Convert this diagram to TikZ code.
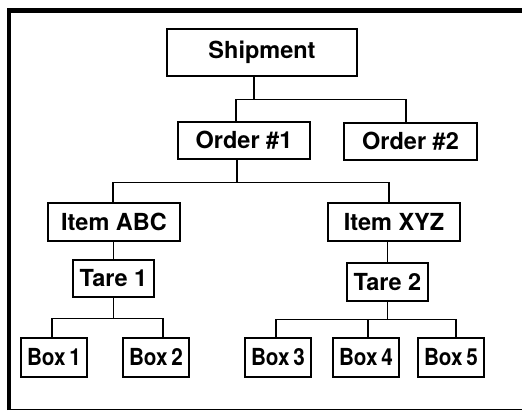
\documentclass[tikz,border=0pt]{standalone}
\usepackage{fontspec}
\setmainfont{TeX Gyre Heros}
\newfontfamily\narrowfont[FakeStretch=0.88]{TeX Gyre Heros}
\usetikzlibrary{positioning}

\begin{document}
\begin{tikzpicture}[
x=1pt, y=-1pt,
box/.style={draw, line width=1.5pt, inner sep=0pt, align=center, minimum height=37pt, font=\fontsize{23.5}{26}\selectfont\bfseries},
boxlbl/.style={box, minimum width=66pt, minimum height=39pt, font=\fontsize{23.5}{26}\narrowfont\bfseries},
link/.style={line width=1.3pt}
]
\useasboundingbox (0,0) rectangle (522,411);

% frame
\draw[line width=4pt] (9,410) -- (9,10.5);
\draw[line width=5pt] (7,10.5) -- (522,10.5);
\draw[line width=1.5pt] (7,409.5) -- (522,409.5);

\node[box, minimum width=190pt, minimum height=47pt] (ship) at (262,52.5) {Shipment};

\node[box, minimum width=132pt] (order1) at (244,140.5) {Order \#1};
\node[box, minimum width=133pt] (order2) at (410.5,141.5) {Order \#2};

\node[box, minimum width=132pt, minimum height=38pt] (itemabc) at (114,222) {Item ABC};
\node[box, minimum width=132pt, minimum height=38pt] (itemxyz) at (394,222) {Item XYZ};

\node[box, minimum width=81pt] (tare1) at (113.5,278.5) {Tare 1};
\node[box, minimum width=81pt, minimum height=38pt] (tare2) at (387.5,282) {Tare 2};

\node[boxlbl] (box1) at (54,357.5) {Box\,1};
\node[boxlbl] (box2) at (156,357.5) {Box\,2};
\node[boxlbl] (box3) at (278,357.5) {Box\,3};
\node[boxlbl] (box4) at (366,357.5) {Box\,4};
\node[boxlbl] (box5) at (451,357.5) {Box\,5};

\draw[link] ([xshift=-8pt]ship.south) -- ++(0,23) coordinate (j1);
\draw[link] ([xshift=-8pt]order1.north) |- (j1) -| ([xshift=-4.5pt]order2.north);

\draw[link] ([xshift=-7pt]order1.south) -- ++(0,23) coordinate (j2);
\draw[link] ([xshift=-1pt]itemabc.north) |- (j2) -| ([xshift=-5pt]itemxyz.north);

\draw[link] (tare1.north) -- (tare1.north |- itemabc.south);
\draw[link] (tare2.north) -- (tare2.north |- itemxyz.south);

\draw[link] (tare1.south) -- ++(0,21) coordinate (j3);
\draw[link] ([xshift=-2pt]box1.north) |- (j3) -| ([xshift=7pt]box2.north);

\draw[link] (tare2.south) -- ++(0,18) coordinate (j4);
\draw[link] ([xshift=-2pt]box3.north) |- (j4) -| ([xshift=5pt]box5.north);
\draw[link] ([xshift=2pt]box4.north) -- ([xshift=2pt]box4.north |- j4);

\end{tikzpicture}
\end{document}
